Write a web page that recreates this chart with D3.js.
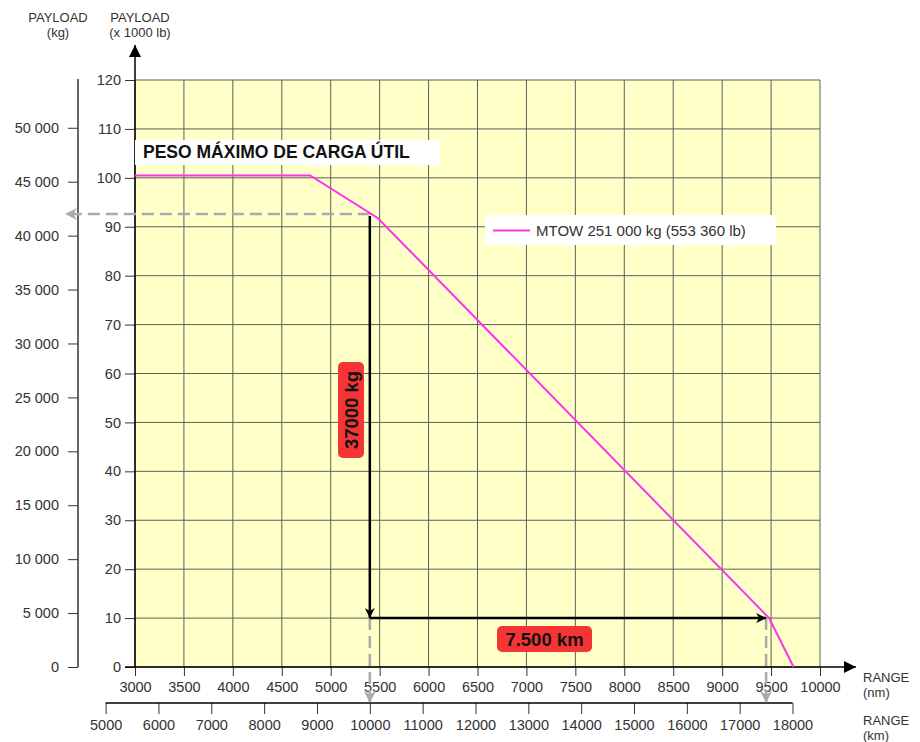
<!DOCTYPE html>
<html><head><meta charset="utf-8">
<script src="https://cdn.jsdelivr.net/npm/d3@7"></script>
<style>body{margin:0;background:#fff}svg{display:block;font-family:"Liberation Sans",Arial,sans-serif}</style>
</head><body><svg id="c" width="920" height="742"></svg>
<script>
// ---- data ----
const curveRangeNm = [3000, 4790, 5480, 9480, 9730];
const curvePayloadLb = [100.5, 100.5, 91.8, 10, 0]; // x1000 lb
const lbTicks = [0,10,20,30,40,50,60,70,80,90,100,110,120];
const kgTicks = [0,5000,10000,15000,20000,25000,30000,35000,40000,45000,50000];
const nmTicks = [3000,3500,4000,4500,5000,5500,6000,6500,7000,7500,8000,8500,9000,9500,10000];
const kmTicks = [5000,6000,7000,8000,9000,10000,11000,12000,13000,14000,15000,16000,17000,18000];
const startKm = 10000, endKm = 17500;
const payloadAtStartKg = 42000;
const endPayloadLb = 10;
const legendLabel = "MTOW 251 000 kg (553 360 lb)";
const titleLabel = "PESO MÁXIMO DE CARGA ÚTIL";
const payloadLabel = "37000 kg";
const rangeLabel = "7.500 km";

const KG_PER_KLB = 453.592, KM_PER_NM = 1.852;
const FS = 14.5;
const svg = d3.select("#c");
const x = d3.scaleLinear([3000,10000],[135,820]);
const y = d3.scaleLinear([0,120],[667,80]);
const yKg = d3.scaleLinear([0,120*KG_PER_KLB],[667,80]);
const xKm = d3.scaleLinear([3000*KM_PER_NM,10000*KM_PER_NM],[135,820]);

const defs = svg.append("defs");
function marker(id, color, w, h){
  defs.append("marker").attr("id",id).attr("viewBox","0 0 10 10").attr("refX",10).attr("refY",5)
    .attr("markerWidth",w).attr("markerHeight",h).attr("markerUnits","userSpaceOnUse").attr("orient","auto")
    .append("path").attr("d","M0,0 L10,5 L0,10 L3,5 Z").attr("fill",color);
}
marker("blk","#000",12,10);
marker("gry","#aaa",14,12);
defs.append("marker").attr("id","big").attr("viewBox","0 0 10 10").attr("refX",10).attr("refY",5)
  .attr("markerWidth",20).attr("markerHeight",12).attr("markerUnits","userSpaceOnUse").attr("orient","auto")
  .append("path").attr("d","M0,0 L10,5 L0,10 Z").attr("fill","#000");

// plot background
svg.append("rect").attr("x",x(3000)).attr("y",y(120)).attr("width",x(10000)-x(3000)).attr("height",y(0)-y(120)).attr("fill","#ffffc8");
// grid
const g = svg.append("g").attr("stroke","#444").attr("stroke-width",1).attr("opacity",0.85);
nmTicks.forEach(v=>g.append("line").attr("x1",x(v)).attr("x2",x(v)).attr("y1",y(0)).attr("y2",y(120)));
lbTicks.forEach(v=>g.append("line").attr("x1",x(3000)).attr("x2",x(10000)).attr("y1",y(v)).attr("y2",y(v)));

function styleAxis(a){
  a.select(".domain").remove();
  a.selectAll("text").attr("font-size",FS).attr("fill","#333").attr("font-family","Liberation Sans, Arial");
  a.selectAll("line").attr("stroke","#333");
}
// lb axis
const ax = svg.append("g").attr("transform",`translate(${x(3000)},0)`)
  .call(d3.axisLeft(y).tickValues(lbTicks).tickSize(10).tickPadding(4));
styleAxis(ax);
svg.append("line").attr("x1",x(3000)).attr("x2",x(3000)).attr("y1",y(0)).attr("y2",45).attr("stroke","#000").attr("stroke-width",1.5).attr("marker-end","url(#big)");

// kg axis
const ak = svg.append("g").attr("transform","translate(78,0)")
  .call(d3.axisLeft(yKg).tickValues(kgTicks).tickSize(10).tickPadding(9).tickFormat(d=>d3.format(",")(d).replace(/,/g," ")));
styleAxis(ak);
svg.append("line").attr("x1",78).attr("x2",78).attr("y1",yKg(0)).attr("y2",79).attr("stroke","#333").attr("stroke-width",1.5);

// nm axis
const an = svg.append("g").attr("transform",`translate(0,${y(0)})`)
  .call(d3.axisBottom(x).tickValues(nmTicks).tickSize(9).tickPadding(6).tickFormat(d3.format("d")));
styleAxis(an);
svg.append("line").attr("x1",125).attr("x2",856).attr("y1",y(0)).attr("y2",y(0)).attr("stroke","#000").attr("stroke-width",1.5).attr("marker-end","url(#big)");

// km axis
const akm = svg.append("g").attr("transform","translate(0,703)")
  .call(d3.axisBottom(xKm).tickValues(kmTicks).tickSize(11).tickPadding(6).tickFormat(d3.format("d")));
styleAxis(akm);
svg.append("line").attr("x1",xKm(5000)).attr("x2",xKm(18000)).attr("y1",703).attr("y2",703).attr("stroke","#000").attr("stroke-width",1.5);

// axis titles (two lines)
function title2(l1,l2,xx,yy,anchor){
  const t = svg.append("text").attr("text-anchor",anchor||"middle").attr("font-size",13).attr("fill","#333");
  t.append("tspan").attr("x",xx).attr("y",yy).text(l1);
  t.append("tspan").attr("x",xx).attr("y",yy+15).text(l2);
}
title2("PAYLOAD","(kg)",58,22);
title2("PAYLOAD","(x 1000 lb)",140,22);
title2("RANGE","(nm)",863,682,"start");
title2("RANGE","(km)",863,725,"start");

// title box
svg.append("rect").attr("x",135).attr("y",140).attr("width",305).attr("height",25).attr("fill","#fff");
svg.append("text").attr("x",143).attr("y",158).attr("font-size",17.5).attr("font-weight","bold").attr("fill","#111").text(titleLabel);

// annotations: gray dashed
const startNm = startKm/KM_PER_NM, endNm = endKm/KM_PER_NM;
const yStart = yKg(payloadAtStartKg);
const gd = svg.append("g").attr("stroke","#aaa").attr("stroke-width",2.5).attr("stroke-dasharray","12,6").attr("fill","none");
gd.append("line").attr("x1",x(startNm)).attr("x2",65).attr("y1",yStart).attr("y2",yStart).attr("marker-end","url(#gry)");
gd.append("line").attr("x1",xKm(startKm)).attr("x2",xKm(startKm)).attr("y1",y(endPayloadLb)).attr("y2",703).attr("marker-end","url(#gry)");
gd.append("line").attr("x1",xKm(endKm)).attr("x2",xKm(endKm)).attr("y1",y(endPayloadLb)).attr("y2",703).attr("marker-end","url(#gry)");

// curve
const pts = curveRangeNm.map((r,i)=>[r,curvePayloadLb[i]]);
svg.append("path").datum(pts).attr("fill","none").attr("stroke","#ff30f0").attr("stroke-width",2)
  .attr("d",d3.line().x(d=>x(d[0])).y(d=>y(d[1])));

// black arrows
svg.append("line").attr("x1",xKm(startKm)).attr("x2",xKm(startKm)).attr("y1",yStart+2).attr("y2",y(endPayloadLb)).attr("stroke","#000").attr("stroke-width",2.5).attr("marker-end","url(#blk)");
svg.append("line").attr("x1",xKm(startKm)).attr("x2",xKm(endKm)).attr("y1",y(endPayloadLb)).attr("y2",y(endPayloadLb)).attr("stroke","#000").attr("stroke-width",2.5).attr("marker-end","url(#blk)");

// legend
svg.append("rect").attr("x",485).attr("y",215).attr("width",291).attr("height",30).attr("fill","#fff");
svg.append("line").attr("x1",493).attr("x2",530).attr("y1",230.5).attr("y2",230.5).attr("stroke","#ff30f0").attr("stroke-width",2);
svg.append("text").attr("x",536).attr("y",236).attr("font-size",15).attr("fill","#333").text(legendLabel);

// red labels
svg.append("rect").attr("x",338).attr("y",362).attr("width",26).attr("height",96).attr("rx",5).attr("fill","#f53535");
svg.append("text").attr("transform","translate(357.5,410) rotate(-90)").attr("text-anchor","middle").attr("font-size",18.5).attr("font-weight","bold").attr("fill","#111").text(payloadLabel);
svg.append("rect").attr("x",497).attr("y",626).attr("width",95).attr("height",26).attr("rx",5).attr("fill","#f53535");
svg.append("text").attr("x",544.5).attr("y",645.5).attr("text-anchor","middle").attr("font-size",18.5).attr("font-weight","bold").attr("fill","#111").text(rangeLabel);
</script></body></html>
